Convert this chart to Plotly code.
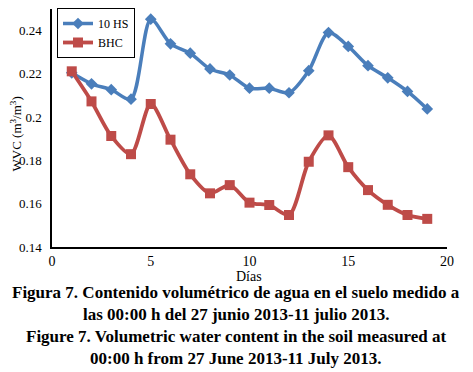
import plotly.graph_objects as go

dias = list(range(1, 20))
hs10 = [0.2205, 0.2154, 0.2127, 0.2083, 0.2453, 0.2339, 0.2296, 0.2223, 0.2195,
        0.2134, 0.2134, 0.2113, 0.2215, 0.2391, 0.2327, 0.2238, 0.2182, 0.2119, 0.2038]
bhc = [0.2212, 0.2073, 0.1913, 0.1829, 0.2061, 0.1896, 0.1736, 0.1648, 0.1686,
       0.1605, 0.1594, 0.1548, 0.1794, 0.1916, 0.1769, 0.1663, 0.1595, 0.1548, 0.1530]

BLUE = "#4A7EBB"
RED = "#BE4B48"
FONT = "Liberation Serif"

fig = go.Figure()
fig.add_trace(go.Scatter(x=dias, y=hs10, name="10 HS", mode="lines+markers",
                         line=dict(color=BLUE, width=3.5, shape="spline", smoothing=0.8),
                         marker=dict(symbol="diamond", size=9, color=BLUE)))
fig.add_trace(go.Scatter(x=dias, y=bhc, name="BHC", mode="lines+markers",
                         line=dict(color=RED, width=3.8, shape="spline", smoothing=0.8),
                         marker=dict(symbol="square", size=10, color=RED)))

OFF = 8  # browser body margin
W, H = 473 - OFF, 372 - OFF
# plot area in reference pixels: x 52..447, y 7..247
L = 52 - OFF
R = W - (447 - OFF)
T = 0
B = H - (247 - OFF)
pw = W - L - R
ph = H - T - B

def py(p):
    return (H - B - (p - OFF)) / ph

def px(p):
    return ((p - OFF) - L) / pw

ann = []
ann.append(dict(text="Días", x=px(249), y=py(277), xref="paper", yref="paper",
                xanchor="center", yanchor="middle",
                showarrow=False, font=dict(family=FONT, size=14, color="black")))
ann.append(dict(text="WVC (m<sup>3</sup>/m<sup>3</sup>)", x=px(16), y=py(134), xref="paper", yref="paper",
                xanchor="center", yanchor="middle",
                textangle=-90, showarrow=False, font=dict(family=FONT, size=13, color="black")))
caps = [("Figura 7. Contenido volumétrico de agua en el suelo medido a", 293),
        ("las 00:00 h del 27 junio 2013-11 julio 2013.", 315),
        ("Figure 7. Volumetric water content in the soil measured at", 337),
        ("00:00 h from 27 June 2013-11 July 2013.", 359)]
for t, yy in caps:
    ann.append(dict(text="<b>" + t + "</b>", x=px(236), y=py(yy), xref="paper", yref="paper",
                    xanchor="center", yanchor="middle",
                    showarrow=False, font=dict(family=FONT, size=17, color="black")))

fig.update_layout(
    width=W, height=H,
    margin=dict(l=L, r=R, t=T, b=B, pad=0),
    paper_bgcolor="white", plot_bgcolor="white",
    font=dict(family=FONT, size=14, color="black"),
    showlegend=True,
    legend=dict(x=px(57), y=py(7), xanchor="left", yanchor="top",
                bordercolor="black", borderwidth=1, bgcolor="white",
                font=dict(family=FONT, size=12, color="black"), tracegroupgap=0,
                itemwidth=30),
    annotations=ann,
    xaxis=dict(range=[0, 20], dtick=5, showgrid=False, zeroline=False,
               showline=True, linecolor="black", linewidth=1.5, ticks="",
               tickfont=dict(family=FONT, size=14, color="black")),
    yaxis=dict(range=[0.14, 0.25], tick0=0.14, dtick=0.02, showgrid=False, zeroline=False,
               showline=True, linecolor="black", linewidth=1.5, ticks="",
               tickfont=dict(family=FONT, size=13, color="black"),
               ticklabelstandoff=6),
)
fig.write_html("out.html")
